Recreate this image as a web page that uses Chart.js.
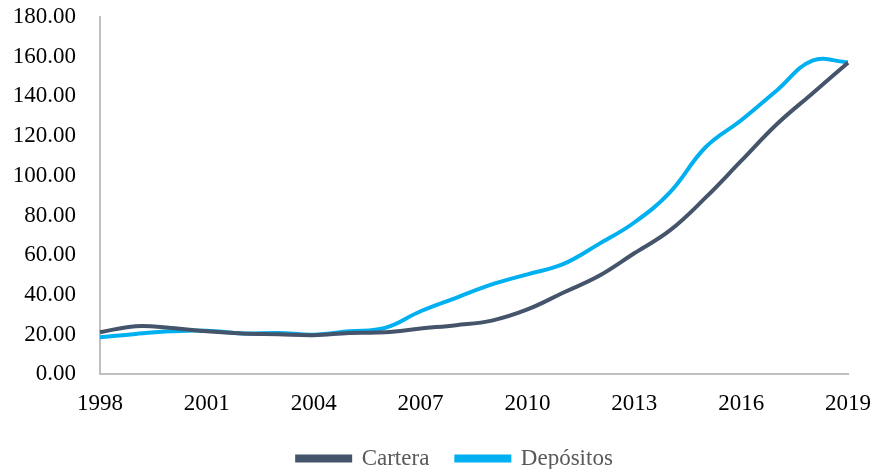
<!DOCTYPE html>
<html>
<head>
<meta charset="utf-8">
<script src="https://cdn.jsdelivr.net/npm/chart.js@4/dist/chart.umd.min.js"></script>
<style>
  html, body { margin: 0; padding: 0; background: #fff; }
  #wrap { width: 876px; height: 469px; }
</style>
</head>
<body>
<div id="wrap"><canvas id="myChart" width="876" height="469"></canvas></div>
<script>
// years on the x axis
let years = ["1998", "1999", "2000", "2001", "2002", "2003", "2004", "2005", "2006", "2007", "2008",
  "2009", "2010", "2011", "2012", "2013", "2014", "2015", "2016", "2017", "2018", "2019"];

let cartera = [21.2, 24.3, 23.4, 21.7, 20.6, 20.2, 19.7, 20.9, 21.2, 23.1, 24.8,
  27.1, 32.7, 41.1, 49.5, 61.0, 72.5, 89.0, 107.5, 126.0, 141.5, 157.0];

let depositos = [18.7, 20.4, 21.7, 22.0, 20.6, 20.9, 20.0, 21.7, 23.4, 31.8, 38.6,
  45.3, 50.4, 55.5, 65.6, 76.5, 91.7, 114.4, 128.0, 143.0, 158.0, 157.2];

let yMax = 180,
  yStep = 20;

let serif = "'Liberation Serif', 'DejaVu Serif', serif";

let data = {
  labels: years,
  datasets: [{
    label: "Cartera",
    data: cartera,
    borderColor: "#44546A",
    backgroundColor: "#44546A",
    borderWidth: 4,
    pointRadius: 0,
    tension: 0.4,
    fill: false
  }, {
    label: "Depósitos",
    data: depositos,
    borderColor: "#00B0F0",
    backgroundColor: "#00B0F0",
    borderWidth: 4,
    pointRadius: 0,
    tension: 0.4,
    fill: false
  }]
};

// the legend in the reference sits a bit right of the canvas middle
let legendShift = {
  id: "legendShift",
  afterLayout: function (chart) {
    chart.legend.left += 31;
    chart.legend.right += 31;
  }
};

let options = {
  responsive: false,
  animation: false,
  layout: {
    padding: { left: 0, right: 28, top: 17, bottom: -11 }
  },
  plugins: {
    tooltip: { enabled: false },
    legend: {
      display: true,
      position: "bottom",
      labels: {
        color: "#595959",
        font: { family: serif, size: 23 },
        boxWidth: 53,
        boxHeight: 4,
        padding: 27
      }
    }
  },
  scales: {
    x: {
      type: "category",
      offset: false,
      grid: { display: false, drawTicks: false },
      border: { display: true, color: "#BFBFBF", width: 2 },
      afterFit: function (scale) {
        scale.paddingLeft = 0;
        scale.paddingRight = 0;
        scale.height -= 14;
      },
      ticks: {
        autoSkip: false,
        maxRotation: 0,
        color: "#000",
        padding: 16,
        font: { family: serif, size: 23 },
        callback: function (val, i) {
          return i % 3 == 0 ? years[i] : "";
        }
      }
    },
    y: {
      min: 0,
      max: yMax,
      grid: { display: false, drawTicks: false },
      border: { display: true, color: "#BFBFBF", width: 2 },
      afterFit: function (scale) {
        scale.width = 100;
        scale.paddingTop = 0;
        scale.paddingBottom = 0;
      },
      ticks: {
        stepSize: yStep,
        color: "#000",
        padding: 24,
        font: { family: serif, size: 23 },
        callback: function (v) { return v.toFixed(2); }
      }
    }
  }
};

let ctx = document.getElementById("myChart");
let chart1 = new Chart(ctx, {
  type: "line",
  data: data,
  options: options,
  plugins: [legendShift]
});
</script>
</body>
</html>
